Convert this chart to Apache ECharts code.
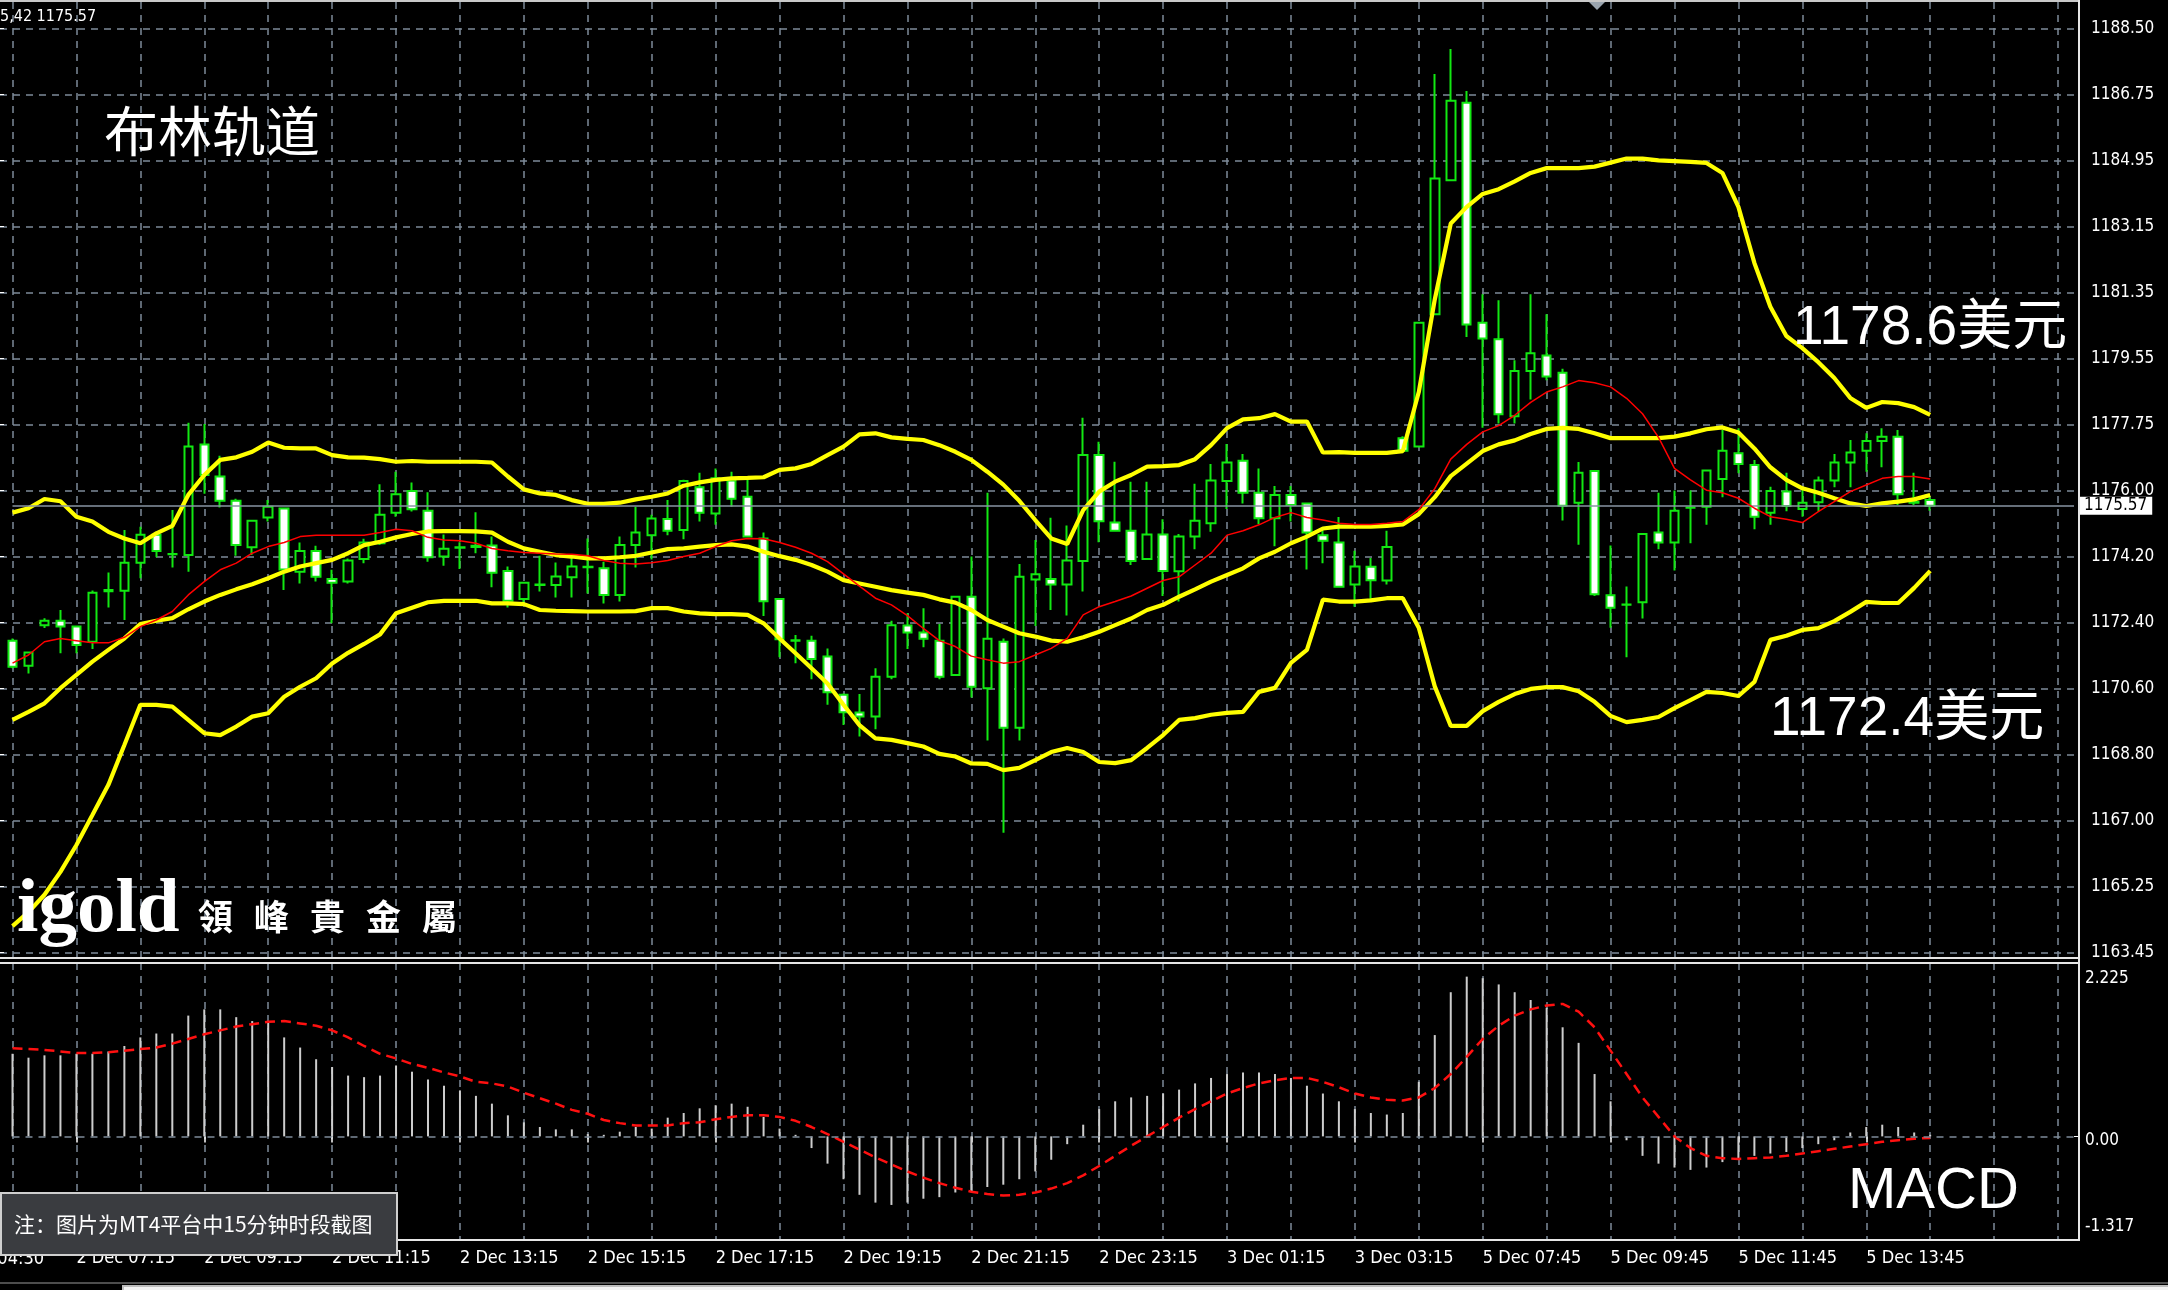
<!DOCTYPE html>
<html><head><meta charset="utf-8">
<script src="https://cdn.jsdelivr.net/npm/echarts/dist/echarts.min.js"></script>
<style>html,body{margin:0;padding:0;background:#000;}#c{width:2168px;height:1290px;}</style>
</head><body><div id="c"></div>
<script>
// ---- time sessions (15-minute bars) ----
const sessions = [['2 Dec', 375, 71], ['3 Dec', 0, 16], ['5 Dec', 390, 34]];
const edgeTimeLabel = '2 Dec 04:30';

// ---- price tick labels (MT4 rounding) ----
const priceTicks = ['1163.45','1165.25','1167.00','1168.80','1170.60','1172.40','1174.20','1176.00','1177.75','1179.55','1181.35','1183.15','1184.95','1186.75','1188.50'];
const macdTickValues = [2.225, 0, -1.317];
const macdTickLabels = ['2.225', '0.00', '-1.317'];

// ---- OHLC ----
const opens = [1171.91,1171.23,1172.33,1172.45,1172.29,1171.88,1173.25,1173.26,1174.02,1174.78,
1174.25,1174.23,1177.23,1176.36,1175.70,1174.44,1175.25,1175.49,1173.78,1174.34,
1173.58,1173.51,1174.12,1174.55,1175.38,1175.97,1175.43,1174.19,1174.43,1174.45,
1174.49,1173.80,1173.04,1173.42,1173.42,1173.63,1173.90,1173.87,1173.15,1174.50,
1174.77,1175.21,1174.91,1176.07,1175.36,1176.25,1175.81,1174.68,1173.04,1171.91,
1171.91,1171.48,1170.44,1169.96,1169.85,1170.93,1172.32,1172.13,1171.91,1170.98,
1173.10,1170.62,1171.88,1169.55,1173.57,1173.58,1173.43,1174.07,1176.94,1175.11,
1174.89,1174.12,1174.79,1173.79,1174.73,1175.09,1176.24,1176.79,1175.92,1175.23,
1175.86,1175.63,1174.77,1174.57,1173.43,1173.91,1173.54,1177.40,1177.17,1180.76,
1184.39,1186.49,1180.53,1180.08,1177.99,1179.22,1179.64,1179.17,1175.65,1176.51,
1173.14,1172.89,1172.95,1174.84,1174.57,1175.51,1175.54,1176.29,1176.99,1176.67,
1175.38,1175.95,1175.48,1175.66,1176.25,1176.74,1177.06,1177.32,1177.44,1175.65,
1175.72];
const highs = [1171.97,1171.59,1172.52,1172.74,1172.31,1173.27,1173.76,1174.91,1175.00,1174.87,
1175.45,1177.82,1177.78,1176.92,1175.76,1175.16,1175.72,1175.51,1174.57,1174.48,
1173.83,1174.14,1174.67,1176.15,1176.49,1176.20,1175.93,1174.79,1174.58,1175.39,
1174.73,1173.92,1173.48,1174.21,1174.03,1174.19,1174.68,1174.05,1174.73,1175.54,
1175.32,1175.72,1176.27,1176.46,1176.58,1176.49,1176.27,1174.84,1173.04,1172.06,
1172.04,1171.70,1170.48,1170.46,1171.16,1172.45,1172.65,1172.79,1172.36,1173.12,
1174.19,1175.92,1171.97,1173.99,1174.64,1175.24,1175.03,1177.95,1177.30,1176.76,
1176.22,1176.22,1175.20,1174.80,1176.16,1176.70,1177.24,1176.97,1176.58,1176.10,
1176.10,1175.65,1174.91,1175.26,1174.35,1174.15,1174.89,1177.45,1180.53,1187.27,
1187.95,1186.81,1181.30,1181.14,1179.51,1181.30,1180.76,1179.28,1176.75,1176.51,
1174.49,1173.38,1174.80,1175.92,1175.98,1175.98,1176.52,1177.62,1177.67,1176.81,
1176.08,1176.46,1176.07,1176.36,1176.97,1177.35,1177.53,1177.67,1177.62,1176.46,
1175.81];
const lows = [1171.16,1171.02,1172.25,1171.57,1171.57,1171.68,1172.81,1172.47,1173.60,1174.17,
1173.89,1173.78,1175.89,1175.52,1174.21,1174.23,1175.14,1173.28,1173.46,1173.51,
1172.38,1173.46,1174.01,1174.50,1175.27,1175.41,1174.05,1173.94,1173.85,1174.28,
1173.36,1172.81,1172.90,1173.24,1173.08,1173.08,1173.19,1172.92,1172.97,1173.89,
1174.11,1174.77,1174.66,1175.14,1175.05,1175.54,1174.71,1172.58,1171.46,1171.30,
1170.86,1170.17,1169.62,1169.31,1169.51,1170.86,1171.68,1171.73,1170.86,1170.95,
1170.37,1169.20,1166.70,1169.20,1172.31,1172.74,1172.59,1173.24,1174.58,1174.89,
1173.96,1174.12,1173.12,1172.97,1174.39,1174.86,1175.48,1175.63,1175.07,1174.47,
1175.14,1173.84,1174.01,1173.35,1172.83,1173.00,1173.43,1177.02,1177.17,1180.76,
1184.39,1180.14,1177.68,1177.80,1177.80,1178.45,1178.97,1175.17,1174.51,1173.12,
1172.26,1171.46,1172.51,1174.39,1173.81,1174.55,1175.05,1175.80,1176.45,1174.93,
1175.05,1175.42,1175.27,1175.41,1176.07,1176.07,1176.49,1176.61,1175.59,1175.59,
1175.43];
const closes = [1171.20,1171.59,1172.45,1172.29,1171.79,1173.21,1173.28,1174.02,1174.78,1174.34,
1174.26,1177.17,1176.40,1175.70,1174.50,1175.16,1175.54,1173.84,1174.34,1173.64,
1173.48,1174.08,1174.57,1175.32,1175.88,1175.47,1174.17,1174.40,1174.44,1174.48,
1173.75,1172.99,1173.48,1173.43,1173.65,1173.92,1173.91,1173.15,1174.50,1174.84,
1175.22,1174.89,1176.24,1175.38,1176.31,1175.76,1174.73,1172.98,1171.95,1171.92,
1171.41,1170.51,1169.97,1169.85,1170.93,1172.33,1172.13,1171.96,1170.93,1173.10,
1170.66,1171.96,1169.55,1173.64,1173.71,1173.43,1174.08,1176.94,1175.15,1174.89,
1174.07,1174.79,1173.80,1174.73,1175.16,1176.25,1176.74,1175.92,1175.23,1175.86,
1175.59,1174.84,1174.62,1173.37,1173.92,1173.55,1174.45,1177.06,1180.53,1184.44,
1186.55,1180.48,1180.10,1178.05,1179.22,1179.70,1179.07,1175.57,1176.46,1173.17,
1172.80,1172.88,1174.80,1174.57,1175.43,1175.52,1176.52,1177.06,1176.70,1175.27,
1175.97,1175.56,1175.65,1176.25,1176.74,1177.01,1177.32,1177.44,1175.88,1175.67,
1175.57];

// ---- Bollinger bands (yellow) ----
const bbUpper = [1175.38,1175.50,1175.75,1175.69,1175.27,1175.14,1174.86,1174.68,1174.55,1174.82,
1175.02,1175.86,1176.40,1176.81,1176.88,1177.03,1177.28,1177.14,1177.12,1177.12,
1176.94,1176.88,1176.87,1176.83,1176.76,1176.78,1176.76,1176.76,1176.76,1176.76,
1176.74,1176.36,1176.01,1175.90,1175.86,1175.72,1175.62,1175.62,1175.65,1175.74,
1175.81,1175.90,1176.11,1176.20,1176.27,1176.31,1176.32,1176.34,1176.54,1176.58,
1176.70,1176.94,1177.17,1177.50,1177.53,1177.42,1177.38,1177.35,1177.21,1177.03,
1176.81,1176.49,1176.14,1175.70,1175.18,1174.68,1174.53,1175.45,1175.95,1176.22,
1176.40,1176.63,1176.64,1176.67,1176.83,1177.21,1177.67,1177.91,1177.94,1178.05,
1177.85,1177.85,1177.01,1177.02,1177.00,1177.00,1177.00,1177.05,1178.65,1181.16,
1183.22,1183.67,1184.02,1184.15,1184.36,1184.59,1184.72,1184.72,1184.72,1184.76,
1184.87,1184.98,1184.98,1184.93,1184.91,1184.89,1184.86,1184.59,1183.67,1182.15,
1180.96,1180.17,1179.84,1179.46,1179.03,1178.49,1178.22,1178.38,1178.35,1178.24,
1178.03];
const bbMiddle = [1169.76,1169.98,1170.21,1170.62,1170.98,1171.34,1171.66,1171.97,1172.36,1172.45,
1172.52,1172.76,1172.97,1173.15,1173.30,1173.44,1173.60,1173.78,1173.92,1174.01,
1174.10,1174.28,1174.50,1174.59,1174.71,1174.80,1174.87,1174.88,1174.88,1174.87,
1174.84,1174.59,1174.41,1174.32,1174.23,1174.19,1174.14,1174.14,1174.17,1174.21,
1174.30,1174.39,1174.41,1174.46,1174.50,1174.52,1174.46,1174.32,1174.20,1174.10,
1173.96,1173.78,1173.55,1173.46,1173.37,1173.28,1173.21,1173.15,1173.03,1172.94,
1172.74,1172.47,1172.29,1172.11,1172.02,1171.91,1171.88,1172.00,1172.15,1172.33,
1172.51,1172.74,1172.88,1173.10,1173.30,1173.51,1173.69,1173.87,1174.14,1174.32,
1174.55,1174.73,1174.95,1175.00,1175.00,1175.00,1175.02,1175.06,1175.34,1175.80,
1176.37,1176.71,1177.05,1177.23,1177.34,1177.51,1177.65,1177.68,1177.65,1177.53,
1177.40,1177.40,1177.40,1177.40,1177.44,1177.53,1177.64,1177.69,1177.55,1177.12,
1176.61,1176.27,1176.04,1175.92,1175.77,1175.63,1175.56,1175.63,1175.68,1175.74,
1175.86];
const bbLower = [1164.17,1164.55,1165.02,1165.64,1166.37,1167.18,1168.00,1169.08,1170.17,1170.17,
1170.12,1169.76,1169.40,1169.35,1169.58,1169.85,1169.94,1170.39,1170.66,1170.89,
1171.29,1171.58,1171.82,1172.08,1172.65,1172.80,1172.95,1172.99,1172.99,1172.99,
1172.92,1172.92,1172.90,1172.74,1172.72,1172.71,1172.70,1172.70,1172.70,1172.71,
1172.79,1172.79,1172.70,1172.65,1172.63,1172.63,1172.61,1172.38,1171.97,1171.57,
1171.16,1170.75,1170.17,1169.62,1169.26,1169.22,1169.13,1169.04,1168.84,1168.77,
1168.58,1168.57,1168.40,1168.46,1168.67,1168.89,1169.00,1168.89,1168.62,1168.59,
1168.67,1169.00,1169.35,1169.76,1169.81,1169.90,1169.95,1169.98,1170.52,1170.63,
1171.31,1171.66,1173.02,1172.97,1172.97,1173.00,1173.06,1173.06,1172.26,1170.67,
1169.60,1169.60,1170.00,1170.25,1170.46,1170.60,1170.65,1170.65,1170.54,1170.25,
1169.87,1169.70,1169.76,1169.84,1170.08,1170.30,1170.52,1170.49,1170.41,1170.79,
1171.93,1172.04,1172.20,1172.25,1172.44,1172.69,1172.96,1172.93,1172.93,1173.34,
1173.80];
// ---- red moving average ----
const redMA = [1171.30,1171.52,1171.88,1171.97,1171.91,1171.85,1171.85,1172.00,1172.29,1172.47,
1172.70,1173.15,1173.51,1173.83,1174.01,1174.28,1174.46,1174.57,1174.73,1174.77,
1174.77,1174.77,1174.77,1174.84,1174.93,1174.89,1174.71,1174.64,1174.62,1174.55,
1174.41,1174.35,1174.30,1174.28,1174.26,1174.25,1174.21,1174.08,1174.01,1173.99,
1174.02,1174.08,1174.19,1174.28,1174.46,1174.62,1174.68,1174.67,1174.57,1174.44,
1174.28,1174.05,1173.72,1173.39,1173.06,1172.88,1172.59,1172.24,1171.91,1171.75,
1171.49,1171.39,1171.30,1171.34,1171.52,1171.70,1171.97,1172.61,1172.83,1172.97,
1173.12,1173.33,1173.54,1173.64,1173.96,1174.28,1174.77,1174.89,1175.05,1175.25,
1175.38,1175.25,1175.18,1175.09,1175.06,1175.06,1175.09,1175.14,1175.46,1176.03,
1176.83,1177.23,1177.57,1177.74,1178.02,1178.37,1178.65,1178.79,1178.96,1178.90,
1178.79,1178.48,1178.06,1177.42,1176.58,1176.27,1175.99,1175.92,1175.77,1175.50,
1175.27,1175.20,1175.11,1175.41,1175.68,1175.95,1176.13,1176.31,1176.36,1176.36,
1176.29];
// ---- MACD ----
const macdHist = [1.06,1.01,1.04,1.04,1.06,1.06,1.09,1.16,1.27,1.32,
1.32,1.55,1.63,1.63,1.53,1.48,1.48,1.27,1.14,0.99,
0.89,0.78,0.76,0.78,0.91,0.83,0.73,0.65,0.59,0.52,
0.42,0.27,0.18,0.12,0.09,0.09,0.03,0.02,0.06,0.12,
0.10,0.24,0.30,0.36,0.40,0.42,0.38,0.25,0.10,0.02,
-0.15,-0.35,-0.55,-0.75,-0.85,-0.88,-0.85,-0.80,-0.78,-0.72,
-0.70,-0.65,-0.62,-0.55,-0.45,-0.30,-0.10,0.15,0.35,0.45,
0.50,0.52,0.55,0.60,0.68,0.75,0.80,0.82,0.82,0.80,
0.75,0.65,0.55,0.45,0.35,0.30,0.28,0.30,0.70,1.30,
1.85,2.05,2.03,1.95,1.85,1.75,1.65,1.40,1.20,0.80,
0.45,-0.05,-0.25,-0.35,-0.40,-0.43,-0.40,-0.33,-0.30,-0.25,
-0.22,-0.20,-0.15,-0.10,-0.05,0.05,0.12,0.15,0.12,0.05,
0.02];
const macdSignal = [1.13,1.12,1.11,1.09,1.07,1.07,1.08,1.10,1.12,1.14,
1.19,1.25,1.31,1.36,1.41,1.44,1.47,1.48,1.45,1.42,
1.36,1.27,1.16,1.06,1.00,0.93,0.88,0.82,0.77,0.70,
0.68,0.64,0.56,0.49,0.42,0.34,0.29,0.21,0.17,0.14,
0.14,0.14,0.17,0.18,0.22,0.25,0.27,0.27,0.25,0.20,
0.12,0.03,-0.07,-0.17,-0.27,-0.36,-0.45,-0.53,-0.60,-0.66,
-0.71,-0.74,-0.76,-0.75,-0.72,-0.67,-0.60,-0.50,-0.38,-0.25,
-0.12,0.00,0.12,0.24,0.35,0.45,0.55,0.62,0.68,0.72,
0.75,0.75,0.70,0.63,0.55,0.50,0.47,0.46,0.50,0.62,
0.80,1.02,1.25,1.42,1.55,1.63,1.68,1.70,1.60,1.40,
1.10,0.80,0.50,0.25,0.00,-0.15,-0.25,-0.28,-0.29,-0.28,
-0.27,-0.25,-0.22,-0.19,-0.16,-0.13,-0.10,-0.07,-0.05,-0.03,
-0.02];

// ---- build times ----
const times = [];
sessions.forEach(([day, start, n]) => {
  for (let k = 0; k < n; k++) {
    const m = start + 15 * k;
    times.push(day + ' ' + String(Math.floor(m / 60)).padStart(2, '0') + ':' + String(m % 60).padStart(2, '0'));
  }
});
const candleData = opens.map((o, i) => [o, closes[i], lows[i], highs[i]]);
const lastClose = closes[closes.length - 1];

const GREEN = '#12e812';
const GRIDC = '#7d8b99';
const FONT = "'DejaVu Sans Condensed','DejaVu Sans',sans-serif";
const CJK = "'Noto Sans CJK SC','Liberation Sans',sans-serif";
const L = 12.5, R = 94;
const showLabel = (i) => i >= 4 && (i - 4) % 8 === 0 && i < times.length;
const showGrid = (i) => i % 4 === 0;

const chart = echarts.init(document.getElementById('c'), null, { renderer: 'canvas', width: 2168, height: 1290 });

const logoChars = ['領', '峰', '貴', '金', '屬'];
const graphics = [
  { type: 'line', shape: { x1: 0, y1: 1, x2: 2079, y2: 1 }, style: { stroke: '#c8c8c8', lineWidth: 2 }, z: 50 },
  { type: 'line', shape: { x1: 2079, y1: 0, x2: 2079, y2: 1241 }, style: { stroke: '#e6e6e6', lineWidth: 2 }, z: 50 },
  { type: 'line', shape: { x1: 0, y1: 958, x2: 2079, y2: 958 }, style: { stroke: '#e6e6e6', lineWidth: 2 }, z: 50 },
  { type: 'line', shape: { x1: 0, y1: 963, x2: 2079, y2: 963 }, style: { stroke: '#e6e6e6', lineWidth: 2 }, z: 50 },
  { type: 'line', shape: { x1: 0, y1: 1240, x2: 2079, y2: 1240 }, style: { stroke: '#e6e6e6', lineWidth: 2 }, z: 50 },
  { type: 'line', shape: { x1: 0, y1: 1283, x2: 2168, y2: 1283 }, style: { stroke: '#9a9a9a', lineWidth: 1 }, z: 50 },
  { type: 'rect', shape: { x: 123, y: 1286, width: 2060, height: 10 }, style: { fill: '#f2f2f2', stroke: '#bdbdbd', lineWidth: 2 }, z: 50 },
  { type: 'polygon', shape: { points: [[1589, 2], [1605, 2], [1597, 10]] }, style: { fill: '#9aa4ae' }, z: 50 },
  { type: 'text', x: 0, y: 17, style: { text: '5,42 1175.57', font: "16px " + FONT, fill: '#ffffff', textVerticalAlign: 'middle' }, z: 50 },
  { type: 'text', x: 104, y: 131, style: { text: '布林轨道', font: "54px " + CJK, fill: '#ffffff', textVerticalAlign: 'middle' }, z: 50 },
  { type: 'text', x: 1793, y: 329, style: { text: '1178.6美元', font: "55px 'Liberation Sans','Noto Sans CJK SC',sans-serif", fill: '#ffffff', textVerticalAlign: 'middle' }, z: 50 },
  { type: 'text', x: 1770, y: 720, style: { text: '1172.4美元', font: "55px 'Liberation Sans','Noto Sans CJK SC',sans-serif", fill: '#ffffff', textVerticalAlign: 'middle' }, z: 50 },
  { type: 'text', x: 1848, y: 1192, style: { text: 'MACD', font: "58px 'Liberation Sans',sans-serif", fill: '#ffffff', textVerticalAlign: 'middle' }, z: 50 },
  { type: 'text', x: 17, y: 911, style: { text: 'igold', font: "bold 77px 'Liberation Serif','DejaVu Serif',serif", fill: '#ffffff', textVerticalAlign: 'middle', shadowColor: '#7a4f22', shadowBlur: 8 }, z: 50 },
  { type: 'text', x: 44, y: 1259, style: { text: edgeTimeLabel, font: "18px " + FONT, fill: '#ffffff', textAlign: 'right', textVerticalAlign: 'middle' }, z: 40 },
  { type: 'rect', shape: { x: 1, y: 1193, width: 396, height: 62 }, style: { fill: '#3a3c40', stroke: '#cfcfcf', lineWidth: 2 }, z: 60 },
  { type: 'text', x: 14, y: 1224, style: { text: '注：图片为MT4平台中15分钟时段截图', font: "21px " + CJK, fill: '#ffffff', textVerticalAlign: 'middle' }, z: 61 }
];
logoChars.forEach((ch, k) => {
  graphics.push({ type: 'text', x: 198 + 56 * k, y: 917, style: { text: ch, font: "bold 35px " + CJK, fill: '#ffffff', textVerticalAlign: 'middle', shadowColor: '#7a4f22', shadowBlur: 6 }, z: 50 });
});

const nearest = (arr, v) => { let b = 0; arr.forEach((a, k) => { if (Math.abs(a - v) < Math.abs(arr[b] - v)) b = k; }); return b; };

const option = {
  backgroundColor: '#000000',
  animation: false,
  grid: [
    { left: 0, right: 89, top: 28.7, height: 924 },
    { left: L, right: R, top: 2, height: 955 },
    { left: L, right: R, top: 963, height: 276 }
  ],
  xAxis: [
    { gridIndex: 0, type: 'value', show: false, min: 0, max: 1 },
    { gridIndex: 1, type: 'category', data: times, boundaryGap: false, max: 129,
      axisLine: { show: false }, axisTick: { show: false }, axisLabel: { show: false },
      splitLine: { show: true, interval: showGrid, lineStyle: { color: GRIDC, type: [7, 6], width: 1.5 } } },
    { gridIndex: 2, type: 'category', data: times, boundaryGap: false, max: 129,
      axisLine: { show: false },
      axisTick: { show: true, interval: showLabel, length: 6, lineStyle: { color: '#ffffff', width: 1.5 } },
      axisLabel: { show: true, interval: showLabel, color: '#ffffff', fontSize: 18, fontFamily: FONT, align: 'left', margin: 10 },
      splitLine: { show: true, interval: showGrid, lineStyle: { color: GRIDC, type: [7, 6], width: 1.5 } } }
  ],
  yAxis: [
    { gridIndex: 0, type: 'value', position: 'right', min: 0, max: priceTicks.length - 1, interval: 1,
      axisLine: { show: false }, axisTick: { show: true, length: 4, lineStyle: { color: '#ffffff' } },
      axisLabel: { color: '#ffffff', fontSize: 17, fontFamily: FONT, margin: 12, formatter: (v) => priceTicks[Math.round(v)] },
      splitLine: { show: true, lineStyle: { color: GRIDC, type: [7, 6], width: 1.5 } } },
    { gridIndex: 1, type: 'value', show: false, min: 1163.333, max: 1189.224, splitLine: { show: false } },
    { gridIndex: 2, type: 'value', position: 'right', min: -1.317, max: 2.225,
      axisLine: { show: false }, splitLine: { show: false },
      axisTick: { show: true, customValues: macdTickValues, length: 4, lineStyle: { color: '#ffffff' } },
      axisLabel: { customValues: macdTickValues, margin: 11, color: '#ffffff', fontSize: 17, fontFamily: FONT,
        formatter: (v) => { const k = nearest(macdTickValues, v); return '{' + ['hi', 'mid', 'lo'][k] + '|' + macdTickLabels[k] + '}'; },
        rich: {
          hi: { color: '#ffffff', fontSize: 17, fontFamily: FONT, padding: [32, 0, 0, 0] },
          mid: { color: '#ffffff', fontSize: 17, fontFamily: FONT, padding: [8, 0, 0, 0] },
          lo: { color: '#ffffff', fontSize: 17, fontFamily: FONT, padding: [0, 0, 24, 0] }
        } } }
  ],
  series: [
    { type: 'candlestick', xAxisIndex: 1, yAxisIndex: 1, data: candleData, barWidth: 9, clip: false, silent: true, z: 2,
      itemStyle: { color: '#000000', color0: '#ffffff', borderColor: GREEN, borderColor0: GREEN, borderWidth: 2 },
      markLine: { silent: true, symbol: 'none', animation: false, data: [{ yAxis: lastClose }],
        lineStyle: { color: '#8995a3', width: 1.5, type: 'solid' },
        label: { show: true, position: 'end', distance: 6, formatter: lastClose.toFixed(2), backgroundColor: '#ffffff', color: '#000000', fontSize: 17, fontFamily: FONT, padding: [1, 5, 0, 4] } } },
    { type: 'line', xAxisIndex: 1, yAxisIndex: 1, data: bbUpper, symbol: 'none', silent: true, z: 4, lineStyle: { color: '#ffff00', width: 4.2 } },
    { type: 'line', xAxisIndex: 1, yAxisIndex: 1, data: bbMiddle, symbol: 'none', silent: true, z: 4, lineStyle: { color: '#ffff00', width: 4.2 } },
    { type: 'line', xAxisIndex: 1, yAxisIndex: 1, data: bbLower, symbol: 'none', silent: true, z: 4, lineStyle: { color: '#ffff00', width: 4.2 } },
    { type: 'line', xAxisIndex: 1, yAxisIndex: 1, data: redMA, symbol: 'none', silent: true, z: 5, lineStyle: { color: '#ff0000', width: 1.5 } },
    { type: 'bar', xAxisIndex: 2, yAxisIndex: 2, data: macdHist, barWidth: 2, silent: true, z: 2, itemStyle: { color: '#cdcdcd' },
      markLine: { silent: true, symbol: 'none', animation: false, data: [{ yAxis: 0 }], label: { show: false },
        lineStyle: { color: GRIDC, width: 1.5, type: [7, 6] } } },
    { type: 'line', xAxisIndex: 2, yAxisIndex: 2, data: macdSignal, symbol: 'none', silent: true, z: 4, lineStyle: { color: '#ff1010', width: 2.5, type: [10, 6] } }
  ],
  graphic: graphics
};
chart.setOption(option);
</script>
</body></html>
